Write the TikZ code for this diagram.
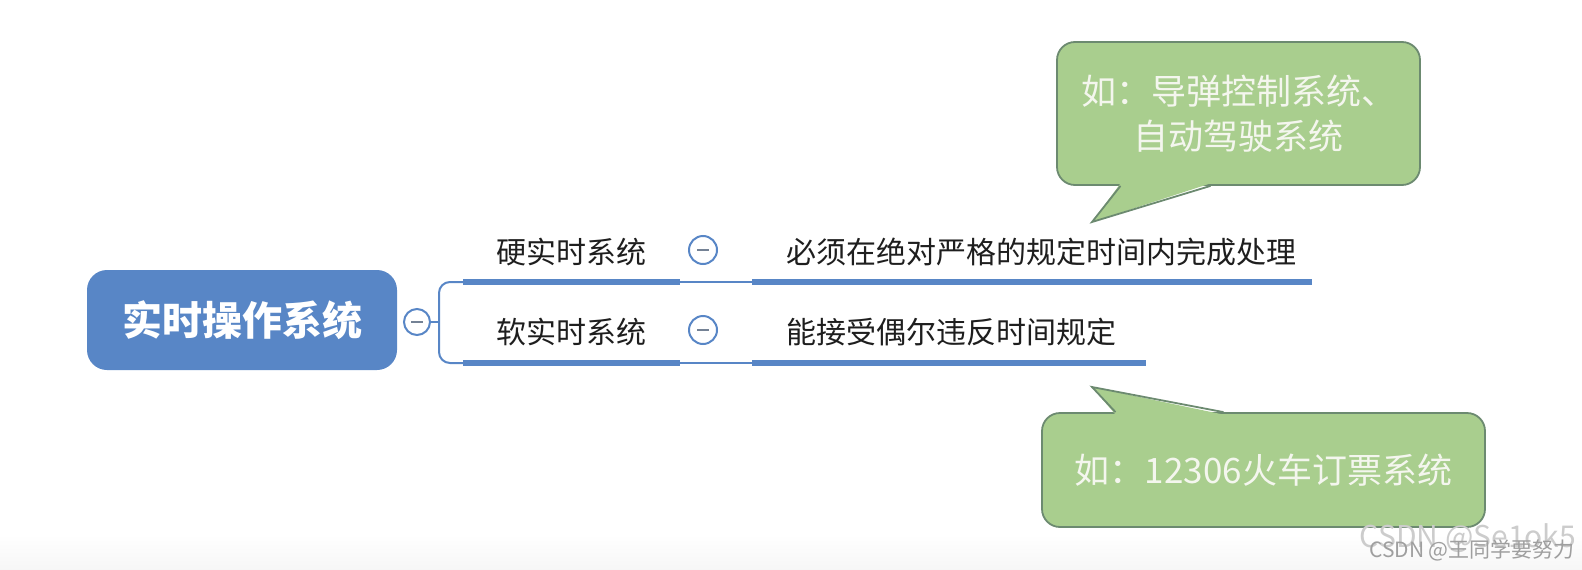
\documentclass[tikz,border=0pt]{standalone}
\usepackage{fontspec}
\newfontfamily\cjk{Noto Sans CJK SC}
\usetikzlibrary{positioning}

\definecolor{mapblue}{RGB}{88,134,198}
\definecolor{notegreen}{RGB}{169,206,142}
\definecolor{noteedge}{RGB}{108,138,112}
\definecolor{notetext}{RGB}{244,246,238}
\definecolor{textdark}{RGB}{30,30,30}

\tikzset{
  rootbox/.style={fill=mapblue, rounded corners=20pt, minimum width=310pt, minimum height=100pt,
    text=white, font=\cjk\bfseries\fontsize{40}{44}\selectfont},
  toggle/.style={circle, draw=mapblue, fill=white, line width=2pt, inner sep=0pt,
    path picture={\draw[gray!70!mapblue, line width=2pt]
      ([xshift=-6pt]path picture bounding box.center) -- ([xshift=6pt]path picture bounding box.center);}},
  label/.style={text=textdark, inner sep=0pt, font=\cjk\fontsize{30}{34}\selectfont},
  branch/.style={draw=mapblue, line width=2pt},
  bar/.style={draw=mapblue, line width=6pt},
  note/.style={fill=notegreen, draw=noteedge, line width=1.8pt, rounded corners=18pt,
    text=notetext, align=center, font=\cjk\fontsize{35}{45}\selectfont},
  wmark/.style={inner sep=0pt, font=\cjk}
}

\begin{document}
\begin{tikzpicture}[x=1pt,y=-1pt]
\useasboundingbox (0,0) rectangle (1582,570);

% Hintergrund unten
\shade[top color=white, bottom color=gray!7] (0,535) rectangle (1582,570);

% Wurzel
\node[rootbox] (rts) at (242,320) {实时操作系统};
\node[toggle, minimum size=26pt] (t0) at (417,322) {};

% Verzweigung
\coordinate (fork) at (439,322);
\coordinate (hard-a) at (463,282);
\coordinate (hard-b) at (680,282);
\coordinate (soft-a) at (463,363);
\coordinate (soft-b) at (680,363);
\draw[branch] (t0) -- (fork);
\draw[branch, rounded corners=11pt] (hard-a) -| (fork) |- (soft-a);

% harte Echtzeit
\node[label] (hard) at (571.5,252) {硬实时系统};
\node[toggle, minimum size=28pt] (t1) at (703,250) {};
\node[label, anchor=west] (harddesc) at (786,252) {必须在绝对严格的规定时间内完成处理};
\coordinate (hd-a) at (752,282);
\coordinate (hd-b) at (1312,282);
\draw[bar] (hard-a) -- (hard-b);
\draw[branch] (hard-b) -- (hd-a);
\draw[bar] (hd-a) -- (hd-b);

% weiche Echtzeit
\node[label] (soft) at (571.5,332) {软实时系统};
\node[toggle, minimum size=28pt] (t2) at (703,330) {};
\node[label, anchor=west] (softdesc) at (786,332) {能接受偶尔违反时间规定};
\coordinate (sd-a) at (752,363);
\coordinate (sd-b) at (1146,363);
\draw[bar] (soft-a) -- (soft-b);
\draw[branch] (soft-b) -- (sd-a);
\draw[bar] (sd-a) -- (sd-b);

% Sprechblasen
\node[note, minimum width=363pt, minimum height=143pt] (ex1) at (1238.5,113.5)
  {如：导弹控制系统、\\自动驾驶系统};
\coordinate (tip1) at (1092,222);
\fill[notegreen] ([xshift=-118pt,yshift=2.5pt]ex1.south) -- (tip1) -- ([xshift=-28pt,yshift=2.5pt]ex1.south) -- cycle;
\draw[noteedge, line width=1.8pt] ([xshift=-118pt]ex1.south) -- (tip1) -- ([xshift=-28pt]ex1.south);

\node[note, minimum width=443pt, minimum height=114pt] (ex2) at (1263.5,470)
  {如：12306火车订票系统};
\coordinate (tip2) at (1092,387);
\fill[notegreen] ([xshift=-148pt,yshift=-2.5pt]ex2.north) -- (tip2) -- ([xshift=-40pt,yshift=-2.5pt]ex2.north) -- cycle;
\draw[noteedge, line width=1.8pt] ([xshift=-148pt]ex2.north) -- (tip2) -- ([xshift=-40pt]ex2.north);

% Wasserzeichen
\node[wmark, text=gray!40, font=\cjk\fontsize{30}{32}\selectfont] (wm1) at (1468,538) {CSDN @Se1ok5};
\node[wmark, text=gray!75, font=\cjk\fontsize{21}{24}\selectfont] (wm2) at (1472,550) {CSDN @王同学要努力};

\end{tikzpicture}
\end{document}
